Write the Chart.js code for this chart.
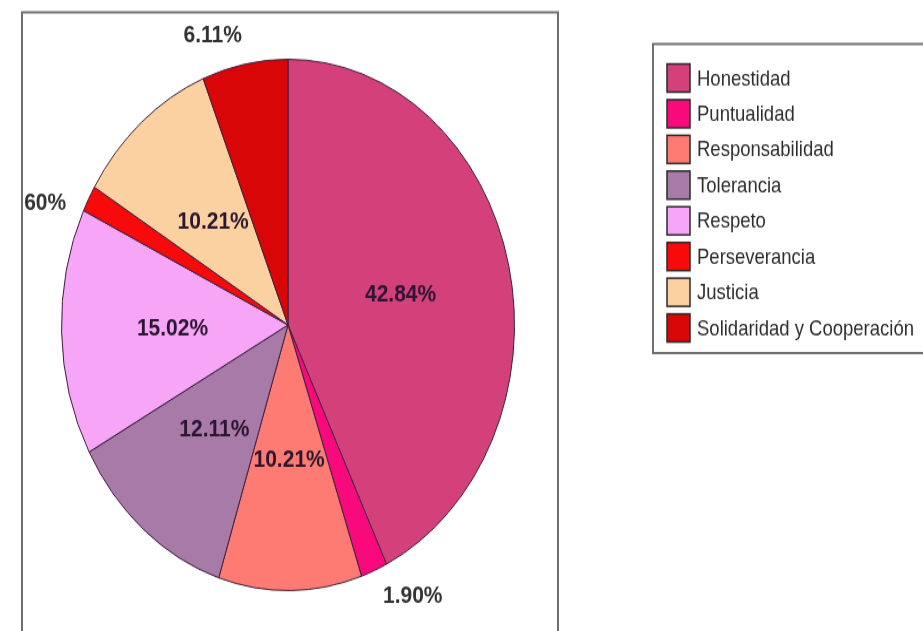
<!DOCTYPE html>
<html>
<head>
<meta charset="utf-8">
<script src="https://cdn.jsdelivr.net/npm/chart.js@4.4.0/dist/chart.umd.min.js"></script>
<style>
  html, body { margin: 0; padding: 0; background: #fff; width: 923px; height: 631px; overflow: hidden; }
  #outer { position: relative; width: 923px; height: 631px; overflow: hidden; }
  /* el gráfico original está estirado en vertical */
  #wrap { position: absolute; left: 0; top: 0; width: 923px; height: 538px; transform: scale(1, 1.1729); transform-origin: 0 0; }
</style>
</head>
<body>
<div id="outer"><div id="wrap"><canvas id="valoresChart"></canvas></div></div>
<script>
// Datos del gráfico
const categorias = ['Honestidad', 'Puntualidad', 'Responsabilidad', 'Tolerancia', 'Respeto', 'Perseverancia', 'Justicia', 'Solidaridad y Cooperación'];
const porcentajes = [42.84, 1.90, 10.21, 12.11, 15.02, 1.60, 10.21, 6.11];
const etiquetas = ['42.84%', '1.90%', '10.21%', '12.11%', '15.02%', '1.60%', '10.21%', '6.11%'];
const colores = ['#d4407a', '#f8097c', '#fd7b72', '#a77aa8', '#f7a6f7', '#f80a0a', '#fbd1a2', '#d80606'];

// Marco y leyenda con recuadro
const marcoPlugin = {
    id: 'marco',
    afterDraw(chart) {
        const ctx = chart.ctx;
        ctx.save();
        ctx.strokeStyle = '#707070';
        ctx.lineWidth = 2;
        ctx.strokeRect(22, 10.5, 536, 600);
        ctx.strokeRect(653, 37.5, 300, 263.5);

        ctx.font = '18.5px "Liberation Sans", Arial, sans-serif';
        ctx.textBaseline = 'middle';
        ctx.textAlign = 'left';
        chart.data.labels.forEach((nombre, i) => {
            const yc = 66.5 + i * 30.44;
            ctx.fillStyle = chart.data.datasets[0].backgroundColor[i];
            ctx.fillRect(667, yc - 12, 23, 24);
            ctx.strokeStyle = '#2a2a2a';
            ctx.lineWidth = 1.5;
            ctx.strokeRect(667, yc - 12, 23, 24);
            ctx.fillStyle = '#2e2e2e';
            ctx.fillText(nombre, 697, yc + 1);
        });
        ctx.restore();
    }
};

// Porcentajes dentro y fuera de las porciones
const etiquetasPlugin = {
    id: 'etiquetas',
    afterDatasetsDraw(chart) {
        const ctx = chart.ctx;
        const meta = chart.getDatasetMeta(0);
        ctx.save();
        ctx.beginPath();
        ctx.rect(23, 11, 534, 600);
        ctx.clip();
        ctx.font = 'bold 21px "Liberation Sans Narrow", "Liberation Sans", Arial, sans-serif';
        ctx.textAlign = 'center';
        ctx.textBaseline = 'middle';
        meta.data.forEach((arc, i) => {
            const p = arc.getProps(['x', 'y', 'startAngle', 'endAngle', 'outerRadius'], true);
            let mid = (p.startAngle + p.endAngle) / 2;
            const texto = etiquetas[i];
            let x, y;
            if (porcentajes[i] >= 7) {
                x = p.x + Math.cos(mid) * p.outerRadius * 0.51;
                y = p.y + Math.sin(mid) * p.outerRadius * 0.51;
                ctx.fillStyle = '#2a1630';
            } else {
                mid -= 6 * Math.PI / 180;
                const halfW = ctx.measureText(texto).width / 2;
                const c = Math.cos(mid), s = Math.sin(mid);
                const d = p.outerRadius + 15 + halfW * Math.abs(c) + 8 * Math.abs(s);
                x = p.x + c * d;
                y = p.y + s * d;
                ctx.fillStyle = '#333333';
            }
            ctx.fillText(texto, x, y);
        });
        ctx.restore();
    }
};

const ctx = document.getElementById('valoresChart').getContext('2d');
new Chart(ctx, {
    type: 'pie',
    data: {
        labels: categorias,
        datasets: [{
            data: porcentajes,
            backgroundColor: colores,
            borderColor: '#3c1f3c',
            borderWidth: 1
        }]
    },
    options: {
        responsive: true,
        maintainAspectRatio: false,
        animation: false,
        layout: { padding: { left: 61, right: 408, top: 50, bottom: 34 } },
        plugins: {
            legend: { display: false },
            tooltip: { enabled: false }
        }
    },
    plugins: [etiquetasPlugin, marcoPlugin]
});
</script>
</body>
</html>
